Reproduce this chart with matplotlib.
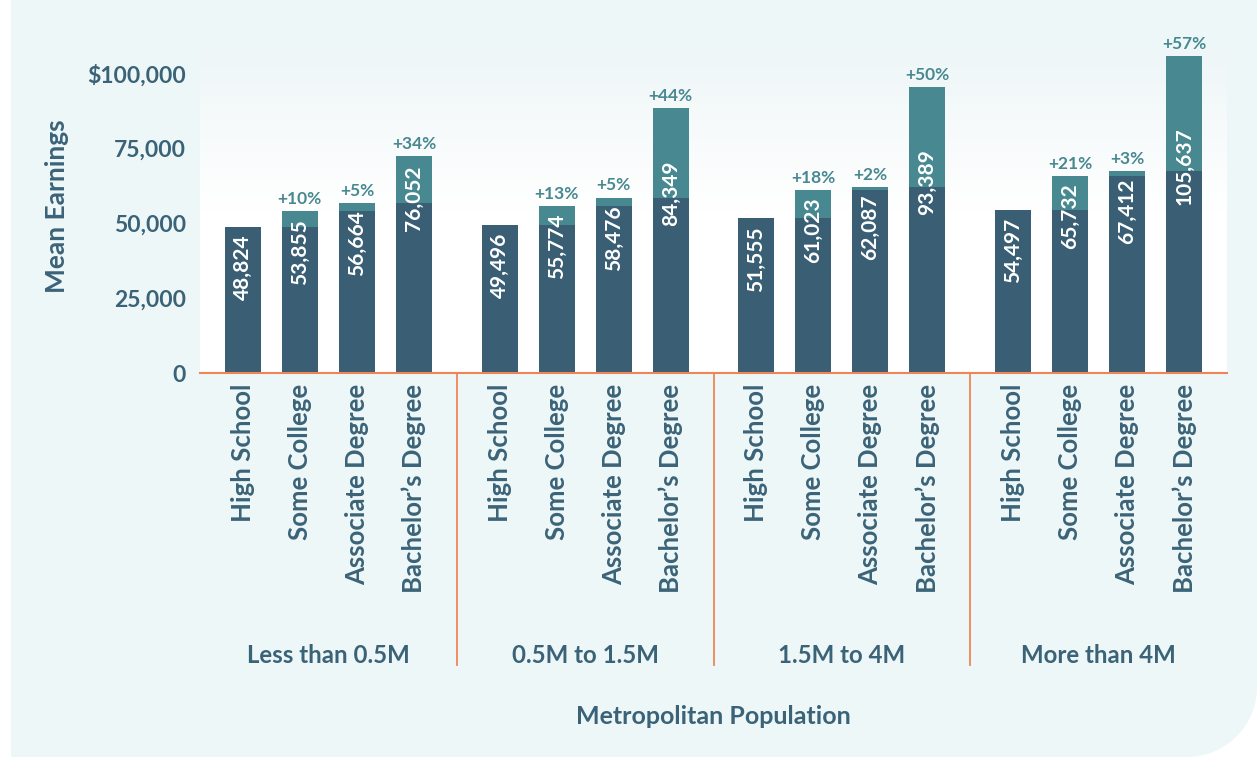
import matplotlib
matplotlib.use("Agg")
import matplotlib.pyplot as plt
import numpy as np
from matplotlib.patches import PathPatch
from matplotlib.path import Path
from matplotlib.colors import LinearSegmentedColormap

# data
groups = ["Less than 0.5M", "0.5M to 1.5M", "1.5M to 4M", "More than 4M"]
degrees = ["High School", "Some College", "Associate Degree", "Bachelor\u2019s Degree"]
earn_small = [48824, 53855, 56664, 76052]
earn_mid = [49496, 55774, 58476, 84349]
earn_large = [51555, 61023, 62087, 93389]
earn_xlarge = [54497, 65732, 67412, 105637]
pct_small = ["", "+10%", "+5%", "+34%"]
pct_mid = ["", "+13%", "+5%", "+44%"]
pct_large = ["", "+18%", "+2%", "+50%"]
pct_xlarge = ["", "+21%", "+3%", "+57%"]
# the Bachelor's bars in the source are drawn at these heights, not at their labels
bach_drawn = [72400, 88400, 95300, 105637]

earnings = [earn_small, earn_mid, earn_large, earn_xlarge]
pcts = [pct_small, pct_mid, pct_large, pct_xlarge]

dark = "#3a5e73"
light = "#488890"
txt = "#3b6378"
orange = "#ef8456"
panel = "#edf7f8"

plt.rcParams["font.family"] = ["Lato", "DejaVu Sans"]

W, H = 1257, 757
fig = plt.figure(figsize=(W / 100, H / 100), dpi=100)
fig.patch.set_facecolor("white")

# background panel with rounded bottom-right corner
bg = fig.add_axes([0, 0, 1, 1], zorder=-1)
bg.set_xlim(0, W)
bg.set_ylim(0, H)
bg.axis("off")
r = 70
t = np.linspace(0, np.pi / 2, 24)
arc = np.column_stack([W - r + r * np.cos(t), r - r * np.sin(t)])
verts = [(11, H), (W, H)] + [tuple(p) for p in arc] + [(11, 0), (11, H)]
codes = [Path.MOVETO] + [Path.LINETO] * (len(verts) - 2) + [Path.CLOSEPOLY]
bg.add_patch(PathPatch(Path(verts, codes), facecolor=panel, edgecolor="none"))

ax = fig.add_axes([200 / W, 1 - 373 / H, 1027 / W, 326 / H])
ax.set_facecolor("none")

# gradient background of plot area
cmap = LinearSegmentedColormap.from_list("g", ["white", "white", "#eef6f7"])
grad = np.linspace(0, 1, 256).reshape(-1, 1)
ax.imshow(grad, extent=[0, 1, 0, 1], transform=ax.transAxes, origin="lower",
          aspect="auto", cmap=cmap, zorder=0)

bw = 0.63
step = 4.5
for g, vals in enumerate(earnings):
    for i, v in enumerate(vals):
        x = g * step + i
        top = bach_drawn[g] if i == 3 else v
        prev = vals[i - 1] if i > 0 else top
        ax.bar(x, prev, width=bw, color=dark, zorder=2)
        if i > 0:
            ax.bar(x, top - prev, bottom=prev, width=bw, color=light, zorder=2)
        ymid = min(top - 13500, prev + 1500)
        ax.text(x, ymid, f"{v:,}", rotation=90, ha="center", va="center",
                color="white", fontsize=15, fontweight="bold", zorder=3)
        if pcts[g][i]:
            ax.annotate(pcts[g][i], (x, top), xytext=(0, 3), textcoords="offset points",
                        ha="center", va="bottom", color=light, fontsize=12.5,
                        fontweight="bold", annotation_clip=False)

xpos = [g * step + i for g in range(4) for i in range(4)]
ax.set_xticks(xpos)
ax.set_xticklabels(degrees * 4, rotation=90, fontsize=18.5, color=txt, fontweight="bold")
ax.tick_params(axis="x", length=0, pad=8)
ax.set_xlim(-0.75, 3 * step + 3.75)
ax.set_ylim(0, 108700)

yt = [0, 25000, 50000, 75000, 100000]
ax.set_yticks(yt)
ax.set_yticklabels(["0", "25,000", "50,000", "75,000", "$100,000"], fontsize=16.5,
                   color=txt, fontweight="bold")
ax.tick_params(axis="y", length=0, pad=10)

for s in ["top", "right", "left"]:
    ax.spines[s].set_visible(False)
ax.spines["bottom"].set_color(orange)
ax.spines["bottom"].set_linewidth(1.5)
ax.spines["bottom"].set_zorder(4)

# group separators and labels
tr = ax.get_xaxis_transform()
for g in range(3):
    xs = g * step + 3.75
    ax.plot([xs, xs], [0, -0.895], color=orange, lw=1.3, transform=tr, clip_on=False)
for g, name in enumerate(groups):
    ax.text(g * step + 1.5, -0.868, name, transform=tr, ha="center", va="center",
            fontsize=17.3, color=txt, fontweight="bold")

ax.text(0.5, -1.055, "Metropolitan Population", transform=ax.transAxes, ha="center",
        va="center", fontsize=18, color=txt, fontweight="bold")
fig.text(57 / W, 1 - 206 / H, "Mean Earnings", rotation=90, ha="center", va="center",
         fontsize=19, color=txt, fontweight="bold")

fig.savefig("out.png", dpi=100)
